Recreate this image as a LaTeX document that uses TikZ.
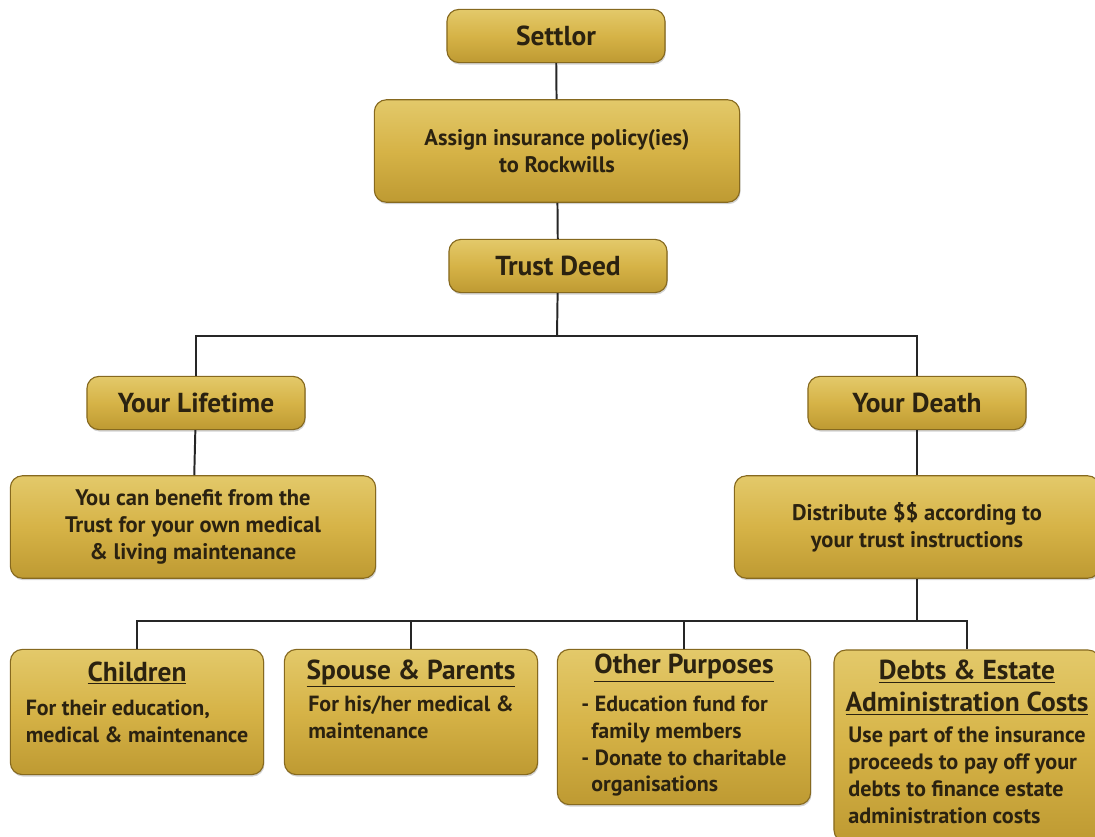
\documentclass[tikz,border=0pt]{standalone}
\usepackage{fontspec}
\setmainfont{PT Sans}
\usetikzlibrary{shadows}
\definecolor{goldtop}{HTML}{E3C96A}
\definecolor{goldmid}{HTML}{D6B347}
\definecolor{goldbot}{HTML}{BE9A32}
\definecolor{goldedge}{HTML}{86691F}
\definecolor{inkbrown}{HTML}{2B2210}
\newcommand\bodylines[1]{\begin{tabular}{@{}l@{}}#1\end{tabular}}
\newcommand\hdr[1]{{\fontsize{19.5}{22.5}\selectfont\underline{#1}}}

\begin{document}
\begin{tikzpicture}[x=0.025cm,y=-0.025cm,
    box/.style={draw=goldedge,line width=0.8pt,rounded corners=0.3cm,
        top color=goldtop,bottom color=goldbot,middle color=goldmid,
        text=inkbrown,align=center,inner sep=0pt,
        drop shadow={shadow xshift=0.6pt,shadow yshift=-1.4pt,opacity=0.35}},
    title/.style={box,minimum width=5.45cm,minimum height=1.33cm,font=\bfseries\fontsize{19.5}{22}\selectfont},
    wide/.style={box,minimum width=9.13cm,minimum height=2.56cm,font=\bfseries\fontsize{16}{19.2}\selectfont},
    leaf/.style={box,minimum width=6.33cm,font=\bfseries\fontsize{15.6}{19}\selectfont},
    link/.style={draw=black!85,line width=1.4pt}]
            \useasboundingbox (0,0) rectangle (1095,836);

            \node[title] (settlor) at (556,36) {Settlor};
            \node[wide] (assign) at (557,151) {Assign insurance policy(ies)\\to Rockwills};
            \node[title] (deed) at (558,266) {Trust Deed};
            \node[title] (life) at (196,403) {Your Lifetime};
            \node[title] (death) at (917,403) {Your Death};
            \node[wide] (benefit) at (193,527) {You can benefit from the\\Trust for your own medical\\\& living maintenance};
            \node[wide] (distrib) at (917,527) {Distribute \$\$ according to\\your trust instructions};

            \node[leaf,minimum height=3.13cm,text depth=24pt] (child) at (137,712) {\hdr{Children}\\[8pt]
                \bodylines{For their education,\\medical \& maintenance}};
            \node[leaf,minimum height=3.13cm,text depth=28pt] (spouse) at (411,712) {\hdr{Spouse \& Parents}\\[3pt]
                \bodylines{For his/her medical \&\\maintenance}};
            \node[leaf,minimum height=3.88cm] (other) at (684,727) {\hdr{Other Purposes}\\[7pt]
                \bodylines{- Education fund for\\\hspace*{0.25cm}family members\\- Donate to charitable\\\hspace*{0.25cm}organisations}};
            \node[leaf,minimum width=6.65cm,minimum height=4.8cm] (debts) at (967,746) {\hdr{Debts \& Estate}\\[4pt]\hdr{Administration Costs}\\[5pt]
                {\fontsize{15.8}{19.3}\selectfont\bodylines{Use part of the insurance\\proceeds to pay off your\\debts to finance estate\\administration costs}}};

            \coordinate (split) at (557,336);
            \coordinate (fork) at (917,621);

            \path [link] (settlor) edge (assign);
            \path [link] (assign) edge (deed);
            \path [link] (deed) edge (split);
            \path [link] (life) edge (benefit);
            \path [link] (death) edge (distrib);
            \path [link] (distrib) edge (fork);
            \draw [link] (life.north) |- (split) -| (death.north);
            \draw [link] (child.north) |- (fork) -| (debts.north);
            \draw [link] (spouse.north) |- (fork);
            \draw [link] (other.north) |- (fork);
        \end{tikzpicture}
\end{document}
